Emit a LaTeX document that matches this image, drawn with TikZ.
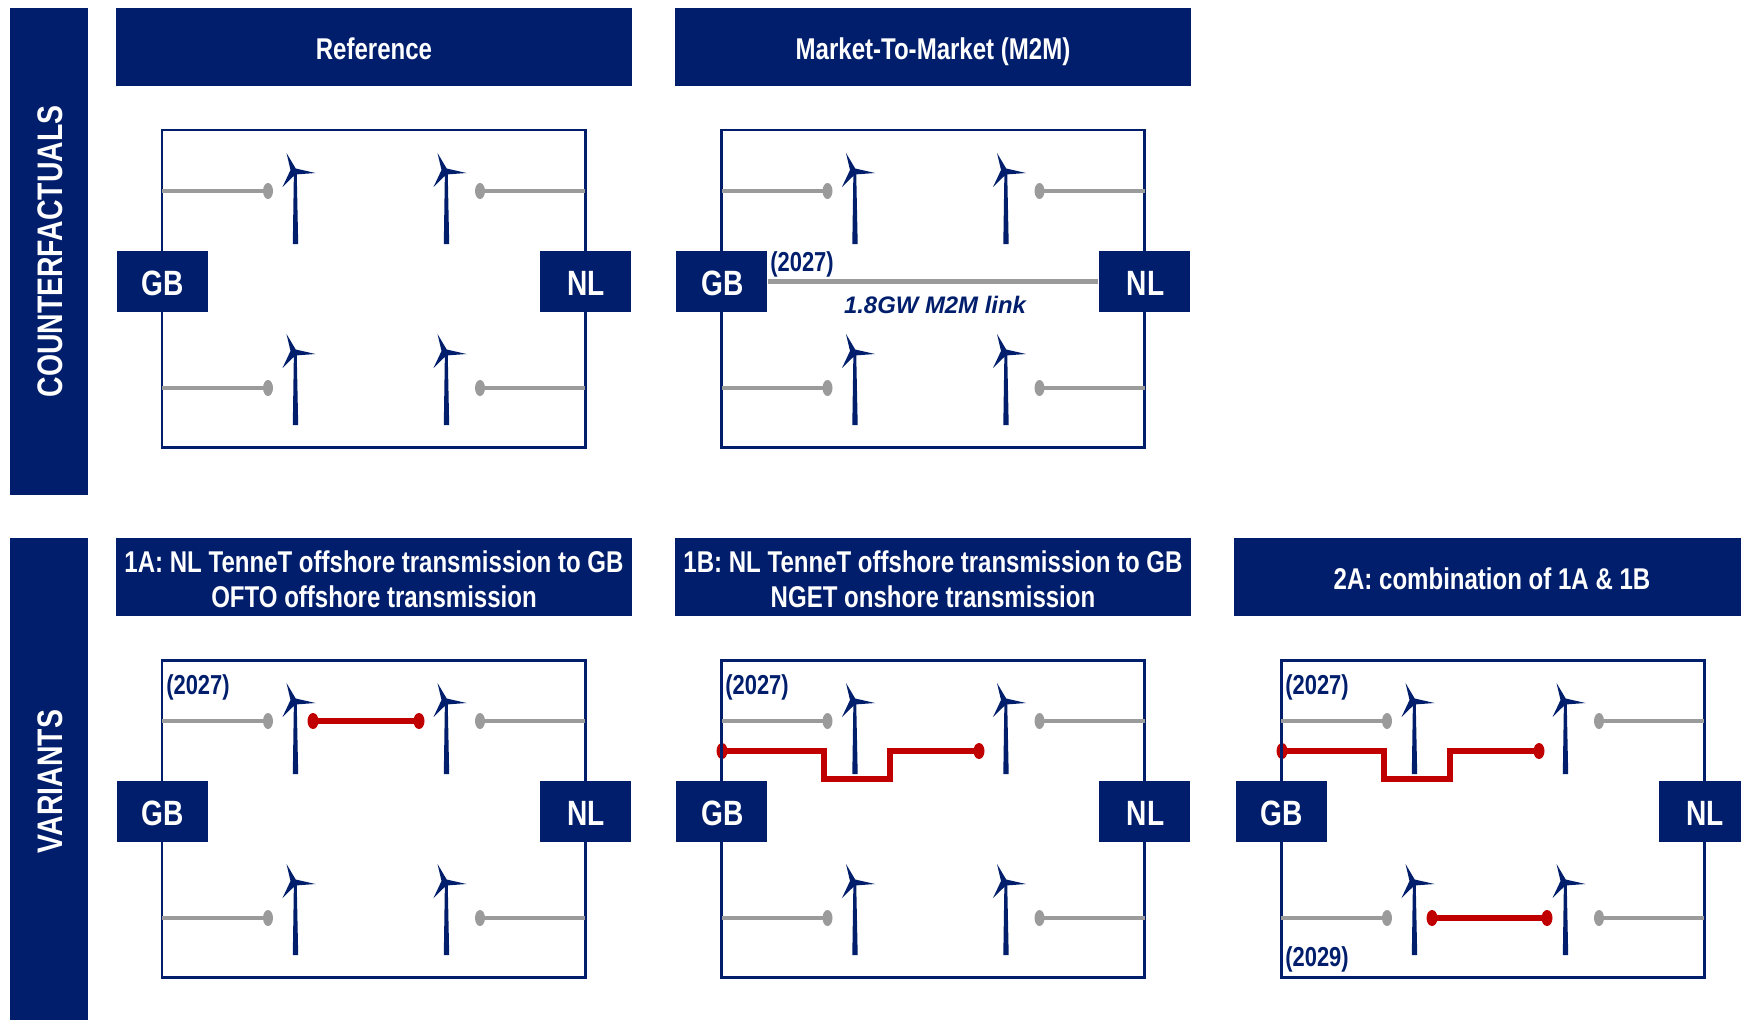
\documentclass[tikz,border=0pt]{standalone}
\usepackage{fontspec}
\setmainfont{Liberation Sans}[FakeStretch=0.8]
\newfontfamily\widefont{Liberation Sans}
\usetikzlibrary{shapes.geometric}
\definecolor{navy}{RGB}{0,30,108}
\definecolor{wire}{RGB}{155,155,155}
\definecolor{newlink}{RGB}{192,0,0}
\tikzset{
    sidebar/.style = {fill=navy, text=white, inner sep=0pt, minimum width=4.87cm, minimum height=0.78cm, text height=0.27cm, text depth=0.01cm, rotate=90, font=\fontsize{10.1}{12}\selectfont\bfseries},
    header/.style = {fill=navy, text=white, inner sep=0pt, minimum width=5.16cm, minimum height=0.78cm, align=center, font=\fontsize{8.55}{9.7}\selectfont\bfseries},
    oneline/.style = {text height=0.28cm, text depth=0.04cm},
    twoline/.style = {text height=0.60cm, text depth=0cm},
    country/.style = {fill=navy, text=white, inner sep=0pt, minimum width=0.91cm, minimum height=0.61cm, text height=0.29cm, text depth=0.01cm, font=\fontsize{10}{12}\selectfont\bfseries, execute at begin node=\hspace*{0.02cm}},
    panelbox/.style = {draw=navy, line width=0.85pt, inner sep=0pt, minimum width=4.23cm, minimum height=3.17cm},
    year/.style = {text=navy, inner sep=0pt, font=\fontsize{7.8}{9}\selectfont\bfseries},
    gdot/.style = {ellipse, fill=wire, inner sep=0pt, minimum width=0.10cm, minimum height=0.16cm},
    rdot/.style = {ellipse, fill=newlink, inner sep=0pt, minimum width=0.11cm, minimum height=0.16cm},
    stub/.style = {draw=wire, line width=1.2pt},
    redlink/.style = {draw=newlink, line width=1.6pt, shorten <=-0.5pt, shorten >=-0.5pt},
    pics/turbine/.style = {code={
        \fill[navy] (-0.027,0) -- (0.027,0) -- (0.012,0.72) -- (-0.016,0.72) -- cycle;
        \fill[navy] (-0.09,0.91) -- (0.002,0.755) -- (0.20,0.71) -- (-0.002,0.695) -- (-0.13,0.57) -- (-0.05,0.74) -- cycle;
    }},
    pics/panel/.style = {code={
        \node[panelbox] (-box) at (2.115,-1.585) {};
        % Four stubs with their end dots
        \coordinate (-la) at (0,-0.61);
        \coordinate (-lb) at (0,-2.58);
        \coordinate (-ra) at (4.23,-0.61);
        \coordinate (-rb) at (4.23,-2.58);
        \node[gdot] (-da) at (1.06,-0.61) {};
        \node[gdot] (-db) at (1.06,-2.58) {};
        \node[gdot] (-dc) at (3.18,-0.61) {};
        \node[gdot] (-dd) at (3.18,-2.58) {};
        \draw[stub, shorten >=-0.5pt] (-la) -- (-da);
        \draw[stub, shorten >=-0.5pt] (-lb) -- (-db);
        \draw[stub, shorten >=-0.5pt] (-ra) -- (-dc);
        \draw[stub, shorten >=-0.5pt] (-rb) -- (-dd);
        % Turbines
        \pic at (1.335,-1.14) {turbine};
        \pic at (2.845,-1.14) {turbine};
        \pic at (1.335,-2.95) {turbine};
        \pic at (2.845,-2.95) {turbine};
        % Countries
        \node[country] (-gb) at (0,-1.515) {GB};
        \node[country] (-nl) at (4.23,-1.515) {NL};
    }}
}
\begin{document}
\begin{tikzpicture}
\useasboundingbox (0,0) rectangle (17.41,-10.19);

% Side bars
\node[sidebar] (counter) at (0.49,-2.515) {COUNTERFACTUALS};
\node[sidebar] (variants) at (0.49,-7.815) {VARIANTS};

% Headers
\node[header, oneline] (hrefcase) at (3.74,-0.47) {Reference};
\node[header, oneline] (hmarket) at (9.33,-0.47) {Market-To-Market (M2M)};
\node[header, twoline] (honea) at (3.74,-5.77) {1A: NL TenneT offshore transmission to GB\\OFTO offshore transmission};
\node[header, twoline] (honeb) at (9.33,-5.77) {1B: NL TenneT offshore transmission to GB\\NGET onshore transmission};
\node[header, oneline] (htwoa) at (14.92,-5.77) {2A: combination of 1A \& 1B};

% Red dots on the panel edge go under the border
\node[rdot] (rba) at (7.22,-7.51) {};
\node[rdot] (rca) at (12.82,-7.51) {};

% Panels
\pic (refcase) at (1.62,-1.30) {panel};
\pic (market) at (7.215,-1.30) {panel};
\pic (onea) at (1.62,-6.60) {panel};
\pic (oneb) at (7.215,-6.60) {panel};
\pic (twoa) at (12.81,-6.60) {panel};

% M2M link
\draw[stub] (market-gb) -- (market-nl);
\node[year] (ymarket) at (8.02,-2.64) {(2027)};
\node[text=navy, inner sep=0pt, font=\fontsize{6.8}{9}\selectfont\widefont\bfseries\itshape] (lmarket) at (9.35,-3.05) {1.8GW M2M link};

% 1A
\node[year] (yonea) at (1.98,-6.87) {(2027)};
\node[rdot] (raa) at (3.13,-7.21) {};
\node[rdot] (rab) at (4.19,-7.21) {};
\draw[redlink] (raa) -- (rab);

% 1B
\node[year] (yoneb) at (7.57,-6.87) {(2027)};
\node[rdot] (rbb) at (9.79,-7.51) {};
\coordinate (kba) at (8.24,-7.79);
\coordinate (kbb) at (8.90,-7.79);
\draw[redlink] (rba) -| (kba) -- (kbb) |- (rbb);

% 2A
\node[year] (ytwoa) at (13.17,-6.87) {(2027)};
\node[year] (ytwob) at (13.17,-9.59) {(2029)};
\node[rdot] (rcb) at (15.39,-7.51) {};
\coordinate (kca) at (13.84,-7.79);
\coordinate (kcb) at (14.50,-7.79);
\draw[redlink] (rca) -| (kca) -- (kcb) |- (rcb);
\node[rdot] (rcc) at (14.32,-9.18) {};
\node[rdot] (rcd) at (15.47,-9.18) {};
\draw[redlink] (rcc) -- (rcd);
\end{tikzpicture}
\end{document}
